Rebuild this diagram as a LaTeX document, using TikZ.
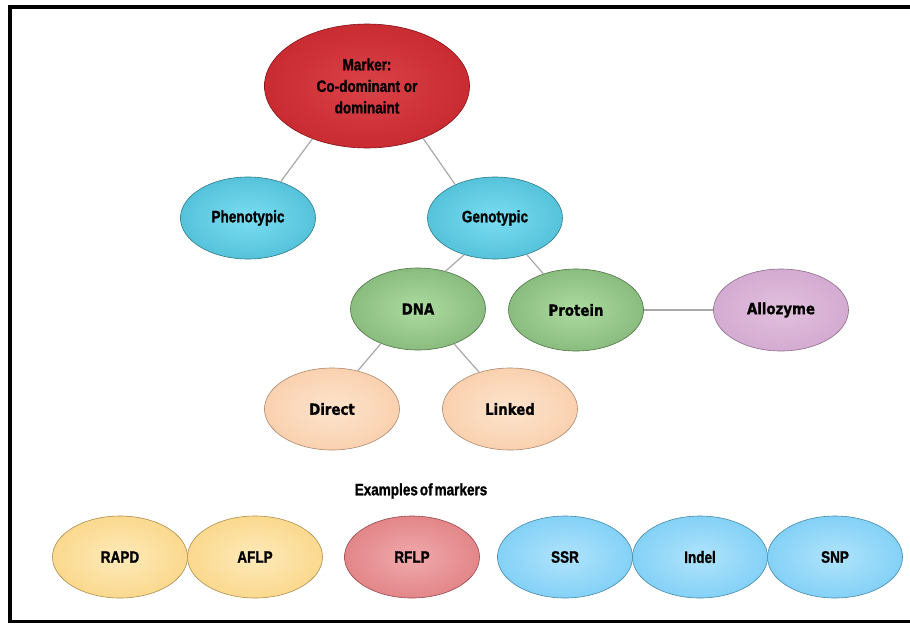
\documentclass[tikz,border=0pt]{standalone}
\usepackage{fontspec}
\setmainfont{Liberation Sans}
\newfontfamily\narrowface[FakeStretch=0.82,FakeBold=1.2]{Liberation Sans}
\newfontfamily\tahface[FakeStretch=0.86,FakeBold=0.8]{DejaVu Sans}
\usetikzlibrary{shapes.geometric}

% radial glow whose two colours are set per node
\colorlet{glowin}{white}
\colorlet{glowout}{gray}
\pgfdeclareradialshading[glowin,glowout]{glow}{\pgfpointorigin}{%
  color(0bp)=(glowin); color(44bp)=(glowout); color(50bp)=(glowout)}

\definecolor{mkIn}{HTML}{DA4248}\definecolor{mkOut}{HTML}{BC1A20}
\definecolor{tlIn}{HTML}{7ADDF2}\definecolor{tlOut}{HTML}{3AAFC8}
\definecolor{grIn}{HTML}{ADDBA0}\definecolor{grOut}{HTML}{70A566}
\definecolor{alIn}{HTML}{E2C0DF}\definecolor{alOut}{HTML}{C99AC6}
\definecolor{pcIn}{HTML}{FDE4CC}\definecolor{pcOut}{HTML}{F7C29A}
\definecolor{ylIn}{HTML}{FEEABA}\definecolor{ylOut}{HTML}{F8CB6C}
\definecolor{rdIn}{HTML}{F0AAAC}\definecolor{rdOut}{HTML}{D86A6E}
\definecolor{blIn}{HTML}{B0E3FB}\definecolor{blOut}{HTML}{62C4F4}
\definecolor{linkgray}{HTML}{A8A8A8}

\tikzset{
  bubble/.style 2 args={ellipse, inner sep=0pt, draw=#2!70!black, line width=0.6pt,
    shading=glow, /utils/exec={\colorlet{glowin}{#1}\colorlet{glowout}{#2}},
    minimum width=135pt, minimum height=82pt, align=center},
  narrowtxt/.style={font=\narrowface\bfseries\fontsize{16.5}{21.5}\selectfont},
  widetxt/.style={font=\tahface\bfseries\fontsize{15.5}{19}\selectfont},
  link/.style={draw=linkgray, line width=1.2pt},
  frame/.style={line width=4pt, black}
}

\begin{document}
\begin{tikzpicture}[x=1pt, y=-1pt]
  \fill[white] (0,0) rectangle (910,624);
  \useasboundingbox (0,0) rectangle (910,624);

  % outer frame: left and top edges heavy, bottom edge lighter
  \draw[frame] (10,623) -- (10,7) -- (910,7);
  \draw[black, line width=3pt] (8,621.5) -- (910,621.5);

  % hierarchy
  \node[bubble={mkIn}{mkOut}, narrowtxt, minimum width=205pt, minimum height=124pt]
    (marker) at (367,86) {Marker:\\Co-dominant or\\dominaint};
  \node[bubble={tlIn}{tlOut}, narrowtxt] (pheno) at (248,218) {Phenotypic};
  \node[bubble={tlIn}{tlOut}, narrowtxt] (geno) at (495,218) {Genotypic};
  \node[bubble={grIn}{grOut}, widetxt] (dna) at (418,309) {DNA};
  \node[bubble={grIn}{grOut}, widetxt] (protein) at (576,310) {Protein};
  \node[bubble={alIn}{alOut}, widetxt] (allozyme) at (781,310) {Allozyme};
  \node[bubble={pcIn}{pcOut}, widetxt] (direct) at (332,409) {Direct};
  \node[bubble={pcIn}{pcOut}, widetxt] (linked) at (510,409) {Linked};

  \draw[link] (marker.224) -- (pheno.48);
  \draw[link] (marker.317) -- (geno.140);
  \draw[link] (geno.230) -- (dna.54);
  \draw[link] (geno.311) -- (protein.132);
  \draw[link] (dna.223) -- (direct.56);
  \draw[link] (dna.316) -- (linked.130);
  \draw[link] (protein.east) -- (allozyme.west);

  % examples row
  \node[narrowtxt] (examples) at (421,491) {Examples\hspace{0.12em}of\hspace{0.12em}markers};
  \node[bubble={ylIn}{ylOut}, narrowtxt] (rapd) at (120,557) {RAPD};
  \node[bubble={ylIn}{ylOut}, narrowtxt] (aflp) at (255,557) {AFLP};
  \node[bubble={rdIn}{rdOut}, narrowtxt] (rflp) at (412,557) {RFLP};
  \node[bubble={blIn}{blOut}, narrowtxt] (ssr) at (565,557) {SSR};
  \node[bubble={blIn}{blOut}, narrowtxt] (indel) at (700,557) {Indel};
  \node[bubble={blIn}{blOut}, narrowtxt] (snp) at (835,557) {SNP};
\end{tikzpicture}
\end{document}
